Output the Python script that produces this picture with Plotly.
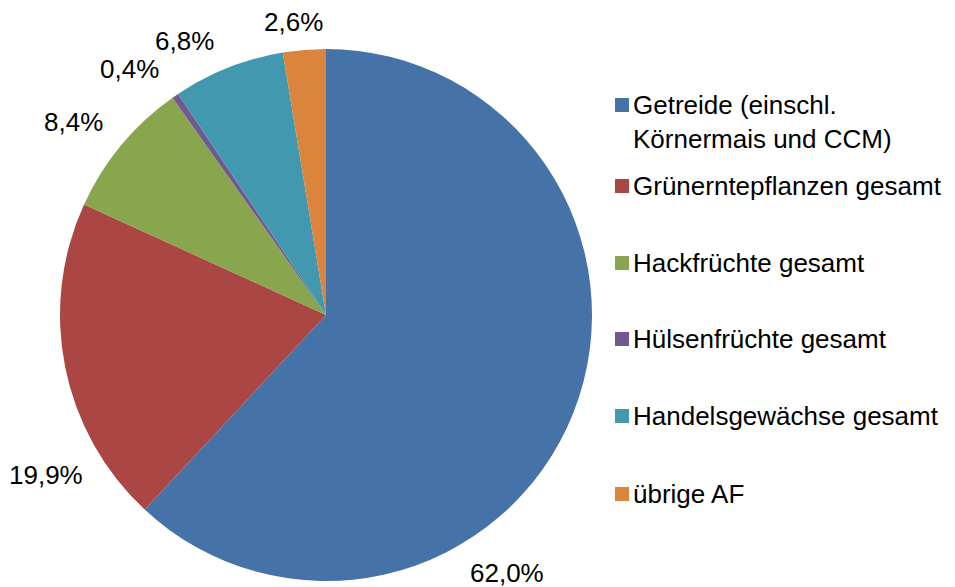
import plotly.graph_objects as go

categories = [
    "Getreide (einschl.<br>Körnermais und CCM)",
    "Grünerntepflanzen gesamt",
    "Hackfrüchte gesamt",
    "Hülsenfrüchte gesamt",
    "Handelsgewächse gesamt",
    "übrige AF",
]
shares = [62.0, 19.9, 8.4, 0.4, 6.8, 2.6]
colors = ["#4572A7", "#AA4643", "#89A54E", "#71588F", "#4198AF", "#DB843D"]

# page body has an 8px margin; size the figure to fit inside the window
OFF = 8
W, H = 955 - OFF, 587 - OFF
FONT = "Liberation Sans, Arial, Helvetica, sans-serif"
FS = 26
FS_LEG = 26

def px(x):
    return (x - OFF) / W

def py(y):
    return 1 - (y - OFF) / H

cx, cy, r = 326, 315, 266

fig = go.Figure()
fig.add_trace(go.Pie(
    labels=categories,
    values=shares,
    marker=dict(colors=colors, line=dict(width=0)),
    sort=False,
    direction="clockwise",
    rotation=0,
    textinfo="none",
    hoverinfo="label+percent",
    showlegend=False,
    domain=dict(x=[px(cx - r), px(cx + r)], y=[py(cy + r), py(cy - r)]),
))

# percentage labels (Excel-style placement outside the pie)
label_pos = [(507, 573), (46, 475), (73, 122), (129, 69), (184, 41), (293, 22)]
annotations = []
for v, (lx, ly) in zip(shares, label_pos):
    annotations.append(dict(
        x=px(lx), y=py(ly), xref="paper", yref="paper",
        text=f"{v:.1f}%".replace(".", ","),
        showarrow=False, xanchor="center", yanchor="middle",
        font=dict(family=FONT, size=FS, color="#000000"),
    ))

# legend drawn manually
legend_y = [104, 185, 262, 338, 415, 493]
shapes = []
for name, col, ly in zip(categories, colors, legend_y):
    shapes.append(dict(
        type="rect", xref="paper", yref="paper",
        x0=px(615), x1=px(629), y0=py(ly - 6), y1=py(ly + 8),
        fillcolor=col, line=dict(width=0),
    ))
    annotations.append(dict(
        x=px(631), y=py(ly - 16), xref="paper", yref="paper",
        text=name, showarrow=False, xanchor="left", yanchor="top",
        align="left",
        font=dict(family=FONT, size=FS_LEG, color="#000000"),
    ))

fig.update_layout(
    width=W, height=H,
    margin=dict(l=0, r=0, t=0, b=0),
    paper_bgcolor="white",
    plot_bgcolor="white",
    annotations=annotations,
    shapes=shapes,
    showlegend=False,
)

fig.write_html("out.html")
